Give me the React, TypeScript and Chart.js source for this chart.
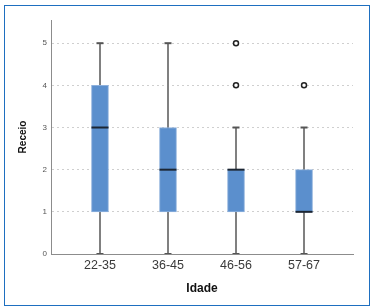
import React, { useEffect, useRef } from 'react';
import { Chart, registerables } from 'chart.js';

Chart.register(...registerables);

const categories = ['22-35', '36-45', '46-56', '57-67'];
const whiskerLow = [0, 0, 0, 0];
const q1 = [1, 1, 1, 1];
const median = [3, 2, 2, 1];
const q3 = [4, 3, 2, 2];
const whiskerHigh = [5, 5, 3, 3];
const outlierGroup = [3, 3, 4];
const outlierValue = [4, 5, 4];
const yTicks = [0, 1, 2, 3, 4, 5];
const xTicks = [1, 2, 3, 4];

const FONT = "'Liberation Sans', Arial, sans-serif";

export default function App() {
  const ref = useRef<HTMLCanvasElement | null>(null);

  useEffect(() => {
    if (!ref.current) return;
    const whiskerSets = categories.map((_, i) => ({
      type: 'line' as const,
      data: [
        { x: i + 1, y: whiskerLow[i] },
        { x: i + 1, y: whiskerHigh[i] },
      ],
      borderColor: '#808080',
      borderWidth: 2,
      pointRadius: 0,
      order: 4,
    }));
    const chart = new Chart(ref.current, {
      type: 'bar',
      data: {
        datasets: [
          ...whiskerSets,
          {
            type: 'bar' as const,
            data: categories.map((_, i) => ({ x: i + 1, y: [q1[i], q3[i]] })) as any,
            backgroundColor: '#5b8fcd',
            borderColor: '#8db0dc',
            borderWidth: 1,
            borderSkipped: false,
            barThickness: 17,
            order: 3,
          },
          {
            type: 'scatter' as const,
            data: [
              ...categories.map((_, i) => ({ x: i + 1, y: whiskerLow[i] })),
              ...categories.map((_, i) => ({ x: i + 1, y: whiskerHigh[i] })),
            ],
            pointStyle: 'line',
            pointRadius: 3.5,
            borderWidth: 2,
            borderColor: '#555555',
            order: 2,
          },
          {
            type: 'scatter' as const,
            data: categories.map((_, i) => ({ x: i + 1, y: median[i] })),
            pointStyle: 'line',
            pointRadius: 8.5,
            borderWidth: 2,
            borderColor: '#1c2633',
            order: 1,
          },
          {
            type: 'scatter' as const,
            data: outlierGroup.map((g, i) => ({ x: g, y: outlierValue[i] })),
            pointStyle: 'circle',
            pointRadius: 2.5,
            borderWidth: 1.5,
            borderColor: '#222222',
            backgroundColor: '#ffffff',
            order: 0,
          },
        ] as any,
      },
      options: {
        animation: false,
        responsive: false,
        events: [],
        layout: { padding: { top: 20, right: 21, bottom: 0, left: 0 } },
        plugins: { legend: { display: false }, tooltip: { enabled: false } },
        scales: {
          x: {
            type: 'linear',
            min: 0.28,
            max: 4.72,
            offset: false,
            afterBuildTicks: (s: any) => {
              s.ticks = xTicks.map((v) => ({ value: v }));
            },
            afterFit: (s: any) => {
              s.height = 53;
            },
            grid: { display: false, drawTicks: false, offset: false },
            border: { display: true, color: '#8c8c8c', width: 1 },
            ticks: {
              padding: 4,
              color: '#3a3a3a',
              font: { family: FONT, size: 12.5 },
              maxRotation: 0,
              autoSkip: false,
              callback: (v: any) => categories[Number(v) - 1] ?? '',
            },
            title: {
              display: true,
              text: 'Idade',
              color: '#111111',
              font: { family: FONT, size: 12, weight: 'bold' },
              padding: { top: 0, bottom: 11 },
            },
          },
          y: {
            type: 'linear',
            min: 0,
            max: 5.55,
            afterBuildTicks: (s: any) => {
              s.ticks = yTicks.map((v) => ({ value: v }));
            },
            afterFit: (s: any) => {
              s.width = 51;
            },
            grid: {
              display: true,
              drawTicks: false,
              color: (c: any) => (c.tick && c.tick.value === 0 ? 'rgba(0,0,0,0)' : '#cfcfcf'),
              lineWidth: 1,
            },
            border: { display: true, color: '#8c8c8c', width: 1, dash: [2, 3] },
            ticks: {
              padding: 4,
              color: '#555555',
              font: { family: FONT, size: 8 },
            },
            title: {
              display: true,
              text: 'Receio',
              color: '#111111',
              font: { family: FONT, size: 10, weight: 'bold' },
              padding: { top: 17.5, bottom: 0 },
            },
          },
        },
      } as any,
    });
    return () => chart.destroy();
  }, []);

  return (
    <div
      style={{
        position: 'fixed',
        left: 0,
        top: 0,
        width: 374,
        height: 307,
        background: '#ffffff',
      }}
    >
      <div
        style={{
          position: 'absolute',
          left: 4,
          top: 5,
          width: 366,
          height: 301,
          boxSizing: 'border-box',
          border: '1.5px solid #1e6fc0',
        }}
      />
      <canvas
        ref={ref}
        width={374}
        height={307}
        style={{ position: 'absolute', left: 0, top: 0, width: 374, height: 307 }}
      />
    </div>
  );
}
